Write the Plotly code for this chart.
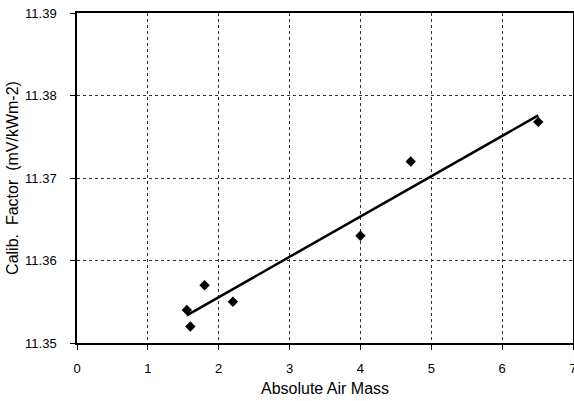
import numpy as np
import plotly.graph_objects as go

air_mass = [1.55, 1.60, 1.80, 2.20, 4.00, 4.71, 6.51]
calib_factor = [11.354, 11.352, 11.357, 11.355, 11.363, 11.372, 11.3768]
x_ticks = [0, 1, 2, 3, 4, 5, 6, 7]
y_ticks = [11.35, 11.36, 11.37, 11.38, 11.39]

slope, intercept = np.polyfit(air_mass, calib_factor, 1)
trend_x = [min(air_mass), max(air_mass)]
trend_y = [slope * v + intercept for v in trend_x]

fig = go.Figure()
fig.add_trace(go.Scatter(x=trend_x, y=trend_y, mode="lines",
                         line=dict(color="black", width=2.5), showlegend=False))
fig.add_trace(go.Scatter(x=air_mass, y=calib_factor, mode="markers",
                         marker=dict(symbol="diamond", color="black", size=8),
                         showlegend=False))

font = "Liberation Sans, Arial, sans-serif"
fig.update_layout(
    width=574, height=401,
    margin=dict(l=77, r=1, t=13, b=58),
    paper_bgcolor="white", plot_bgcolor="white",
    font=dict(family=font, size=13, color="black"),
)
fig.update_xaxes(
    range=[0, 7], tickvals=x_ticks, ticktext=[str(v) for v in x_ticks],
    showgrid=True, gridcolor="#333", griddash="dot", gridwidth=1,
    showline=True, linecolor="black", linewidth=1.5, mirror=True,
    ticks="outside", ticklen=5, tickcolor="black", ticklabelstandoff=8,
    zeroline=False, automargin=False, ticklabeloverflow="allow",
    title=dict(text="Absolute Air Mass", font=dict(size=16), standoff=7),
)
fig.update_yaxes(
    range=[11.35, 11.39], tickvals=y_ticks, ticktext=[f"{v:.2f}" for v in y_ticks],
    showgrid=True, gridcolor="#333", griddash="dot", gridwidth=1,
    showline=True, linecolor="black", linewidth=1.5, mirror=True,
    ticks="outside", ticklen=5, tickcolor="black", ticklabelstandoff=11,
    zeroline=False, automargin=False, ticklabeloverflow="allow",
    title=dict(text="Calib.  Factor  (mV/kWm-2)", font=dict(size=16), standoff=2),
)

fig.write_html("out.html", config={"displayModeBar": False},
               post_script="document.body.style.margin='0';")
